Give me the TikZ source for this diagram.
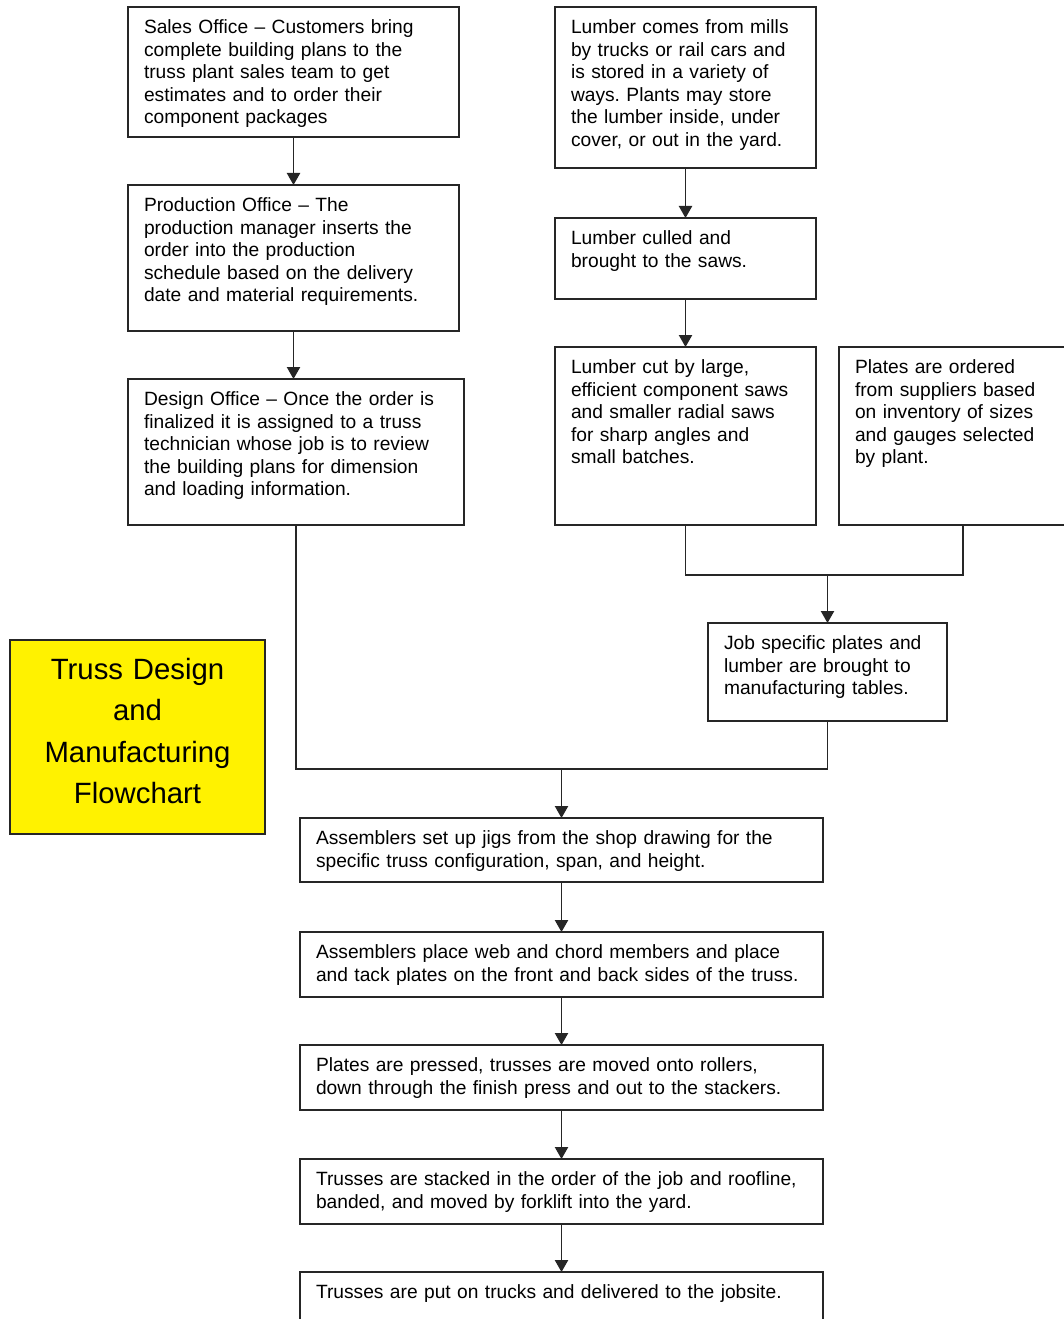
\documentclass[tikz,border=0pt]{standalone}
\usepackage{fontspec}
\setmainfont{Liberation Sans}
\usetikzlibrary{positioning,arrows.meta}
\frenchspacing

\begin{document}
\begin{tikzpicture}[x=0.75pt,y=-0.75pt]
    \tikzstyle{stage}=[draw=black!85, line width=0.9pt, outer sep=0pt, anchor=north west, align=left, inner xsep=12pt, inner ysep=0pt, text height=20pt, font=\fontsize{14.4}{16.9}\selectfont]
    \tikzstyle{title}=[draw=black!85, line width=0.9pt, outer sep=0pt, fill=yellow, anchor=north west, text width=191.25pt, inner sep=0pt, text height=29.6pt, text depth=115.9pt, align=center, font=\fontsize{22}{31}\selectfont]
    \tikzstyle{connect}=[-{Triangle[length=9pt,width=10pt]}, line width=0.9pt, draw=black!85]
    \tikzstyle{joint}=[line width=0.9pt, draw=black!85]
    \useasboundingbox (0,0) rectangle (1063,1319);
      % office column
      \node[stage, text width=224.25pt, text depth=77.5pt] (sales) at (128,7) {Sales Office -- Customers bring\\complete building plans to the\\truss plant sales team to get\\estimates and to order their\\component packages};
      \node[stage, text width=224.25pt, text depth=89.5pt] (prod) [below=36pt of sales.south west, anchor=north west] {Production Office -- The\\production manager inserts the\\order into the production\\schedule based on the delivery\\date and material requirements.};
      \node[stage, text width=228pt, text depth=89.5pt] (design) [below=36pt of prod.south west, anchor=north west] {Design Office -- Once the order is\\finalized it is assigned to a truss\\technician whose job is to review\\the building plans for dimension\\and loading information.};
      % material column
      \node[stage, text width=171.75pt, text depth=100.75pt] (lumber) at (555,7) {Lumber comes from mills\\by trucks or rail cars and\\is stored in a variety of\\ways. Plants may store\\the lumber inside, under\\cover, or out in the yard.};
      \node[stage, text width=171.75pt, text depth=40.75pt] (culled) [below=37.5pt of lumber.south west, anchor=north west] {Lumber culled and\\brought to the saws.};
      \node[stage, text width=171.75pt, text depth=113.5pt] (cut) [below=36pt of culled.south west, anchor=north west] {Lumber cut by large,\\efficient component saws\\and smaller radial saws\\for sharp angles and\\small batches.};
      \node[stage, text width=162pt, text depth=113.5pt] (plates) [right=17.25pt of cut.north east, anchor=north west] {Plates are ordered\\from suppliers based\\on inventory of sizes\\and gauges selected\\by plant.};
      \node[stage, text width=155.25pt, text depth=53.5pt] (job) at (708,623) {Job specific plates and\\lumber are brought to\\manufacturing tables.};
      \node[title] (title) at (10,640) {Truss Design\\and\\Manufacturing\\Flowchart};
      % assembly line
      \node[stage, text width=368.25pt, text depth=28pt] (setup) at (300,818) {Assemblers set up jigs from the shop drawing for the\\specific truss configuration, span, and height.};
      \node[stage, text width=368.25pt, text depth=28.75pt] (place) [below=37.5pt of setup.south west, anchor=north west] {Assemblers place web and chord members and place\\and tack plates on the front and back sides of the truss.};
      \node[stage, text width=368.25pt, text depth=28.75pt] (press) [below=36pt of place.south west, anchor=north west] {Plates are pressed, trusses are moved onto rollers,\\down through the finish press and out to the stackers.};
      \node[stage, text width=368.25pt, text depth=28.75pt] (stack) [below=36.75pt of press.south west, anchor=north west] {Trusses are stacked in the order of the job and roofline,\\banded, and moved by forklift into the yard.};
      \node[stage, text width=368.25pt, text depth=25pt] (ship) [below=36pt of stack.south west, anchor=north west] {Trusses are put on trucks and delivered to the jobsite.};
      \path
        (sales) edge [connect] (prod)
        (prod.south) edge [connect] (prod.south |- design.north)
        (lumber) edge [connect] (culled)
        (culled) edge [connect] (cut)
        (setup) edge [connect] (place)
        (place) edge [connect] (press)
        (press) edge [connect] (stack)
        (stack) edge [connect] (ship);
      % merging lines
      \coordinate (sawjoin) at ([yshift=36pt]job.north);
      \draw[joint] (cut.south) |- (sawjoin) -| (plates.south);
      \draw[connect] (sawjoin) -- (job.north);
      \coordinate (tablejoin) at ([yshift=36.75pt]setup.north);
      \draw[joint] (design.south) |- (tablejoin) -| (job.south);
      \draw[connect] (tablejoin) -- (setup.north);
    \end{tikzpicture}
\end{document}
